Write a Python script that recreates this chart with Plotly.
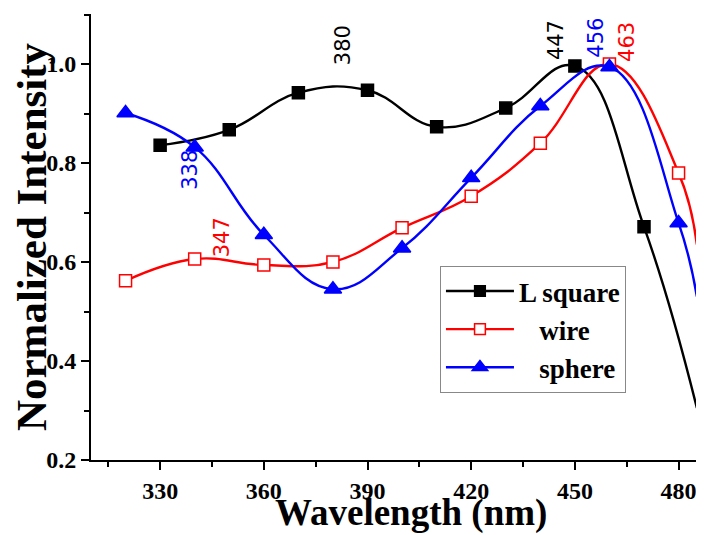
import plotly.graph_objects as go

# ---- data ----
lsq_x = [330, 350, 370, 390, 410, 430, 450, 470]
lsq_y = [0.836, 0.867, 0.942, 0.947, 0.873, 0.911, 0.996, 0.671]
lsq_end = (485.3, 0.305)

wire_x = [320, 340, 360, 380, 400, 420, 440, 460, 480]
wire_y = [0.562, 0.606, 0.594, 0.600, 0.669, 0.733, 0.840, 1.000, 0.780]
wire_end = (485.3, 0.635)

sph_x = [320, 340, 360, 380, 400, 420, 440, 460, 480]
sph_y = [0.901, 0.832, 0.655, 0.545, 0.628, 0.770, 0.915, 0.994, 0.679]
sph_end = (485.3, 0.530)

peak_labels = ["380", "447", "456", "463", "338", "347"]
peak_x = [382.9, 444.5, 456.1, 465.0, 338.6, 347.9]
peak_y = [1.038, 1.048, 1.053, 1.044, 0.786, 0.650]
peak_colors = ["black", "black", "blue", "red", "blue", "red"]

series_names = ["L square", "   wire", "   sphere"]
x_title = "Wavelength (nm)"
y_title = "Normalized Intensity"

fig = go.Figure()

def add_series(x, y, end, name, color, symbol, fill, msize):
    xs = x + [end[0]]
    ys = y + [end[1]]
    sizes = [msize] * len(x) + [0]
    fig.add_trace(go.Scatter(
        x=xs, y=ys, name=name, mode="lines+markers",
        line=dict(color=color, width=2.4, shape="spline", smoothing=1.2),
        marker=dict(symbol=symbol, size=sizes, color=fill, opacity=1,
                    line=dict(color=color, width=1.5)),
    ))

add_series(lsq_x, lsq_y, lsq_end, series_names[0], "black", "square", "black", 12)
add_series(wire_x, wire_y, wire_end, series_names[1], "red", "square", "white", 12)
add_series(sph_x, sph_y, sph_end, series_names[2], "blue", "triangle-up", "blue", 15)

for t, x, y, c in zip(peak_labels, peak_x, peak_y, peak_colors):
    fig.add_annotation(x=x, y=y, text=t, textangle=-90, showarrow=False,
                       font=dict(family="DejaVu Sans", size=21, color=c))

# x-axis title placed as paper annotation to match the reference position
fig.add_annotation(x=0.525, y=-0.118, xref="paper", yref="paper",
                   xanchor="center", yanchor="middle", showarrow=False,
                   text=x_title,
                   font=dict(family="Liberation Serif", size=37, color="black", weight="bold"))

tickfont = dict(family="Liberation Serif", size=24, color="black", weight="bold")

fig.update_layout(
    width=696, height=527,
    margin=dict(l=83, r=4, t=6, b=75),
    plot_bgcolor="white", paper_bgcolor="white",
    showlegend=True,
    legend=dict(x=0.573, y=0.435, xanchor="left", yanchor="top",
                bordercolor="#888888", borderwidth=1, bgcolor="white",
                font=dict(family="Liberation Serif", size=27, color="black", weight="bold"),
                itemwidth=68, tracegroupgap=0),
    xaxis=dict(range=[310, 486.2], tickvals=[330, 360, 390, 420, 450, 480],
               automargin=False,
               showline=True, linecolor="black", linewidth=2,
               ticks="outside", ticklen=8, tickwidth=2, tickcolor="black",
               minor=dict(tickvals=[315, 345, 375, 405, 435, 465], ticks="outside",
                          ticklen=5, tickwidth=2, tickcolor="black"),
               showgrid=False, zeroline=False, tickfont=tickfont),
    yaxis=dict(range=[0.2, 1.101], tickvals=[0.2, 0.4, 0.6, 0.8, 1.0],
               ticktext=["0.2", "0.4", "0.6", "0.8", "1.0"],
               automargin=False,
               showline=True, linecolor="black", linewidth=2,
               ticks="outside", ticklen=8, tickwidth=2, tickcolor="black",
               minor=dict(tickvals=[0.3, 0.5, 0.7, 0.9, 1.1], ticks="outside",
                          ticklen=5, tickwidth=2, tickcolor="black"),
               showgrid=False, zeroline=False, tickfont=tickfont,
               title=dict(text=y_title, standoff=0,
                          font=dict(family="Liberation Serif", size=43, color="black", weight="bold"))),
)

fig.write_html("out.html")
